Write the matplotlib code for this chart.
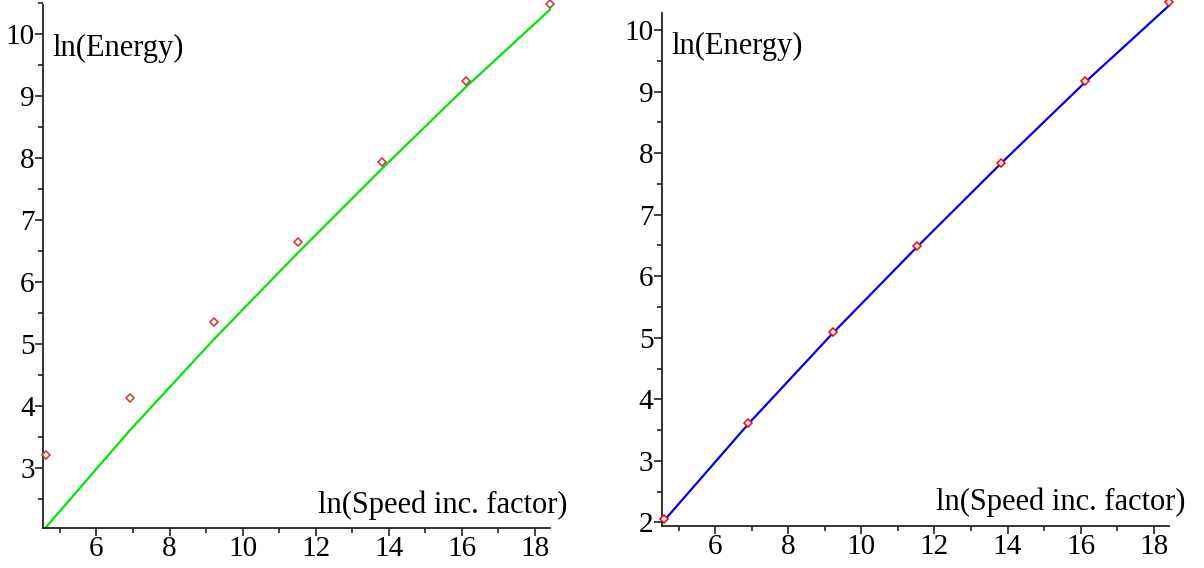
import matplotlib
matplotlib.use("Agg")
import matplotlib.pyplot as plt
from matplotlib.ticker import MultipleLocator

# data: x = ln(speed increase factor)
x_vals = [4.605, 6.908, 9.210, 11.513, 13.816, 16.118, 18.421]
left_y = [3.20, 4.13, 5.35, 6.64, 7.94, 9.24, 10.49]
right_y = [2.05, 3.62, 5.09, 6.49, 7.84, 9.17, 10.46]
# fitted curve (same in both panels), read at the data x positions
curve_x = [4.605, 6.908, 9.210, 11.513, 13.816, 16.118, 18.421]
curve_y = [2.03, 3.60, 5.07, 6.47, 7.83, 9.15, 10.40]

W, H = 1204, 568
fig = plt.figure(figsize=(W / 100, H / 100), dpi=100)
plt.rcParams['font.family'] = ['Liberation Serif', 'DejaVu Serif']

def make_axes(px_left, px_right, px_bottom, ylim, spine_top, ys,
              line_color, mk_color, yticks):
    ax = fig.add_axes([px_left / W, (H - px_bottom) / H,
                       (px_right - px_left) / W, px_bottom / H])
    ax.set_xlim(4.535, 18.42)
    ax.set_ylim(*ylim)
    for s in ['top', 'right']:
        ax.spines[s].set_visible(False)
    ax.spines['left'].set_bounds(ylim[0], spine_top)
    for s in ['left', 'bottom']:
        ax.spines[s].set_linewidth(1.3)
        ax.spines[s].set_color('#222222')
    ax.set_xticks([6, 8, 10, 12, 14, 16, 18])
    ax.xaxis.set_minor_locator(MultipleLocator(1))
    ax.set_yticks(yticks)
    ax.yaxis.set_minor_locator(MultipleLocator(0.5))
    ax.tick_params(which='major', direction='out', length=6, width=1.2,
                   labelsize=21, color='#222222', pad=0)
    ax.tick_params(which='minor', direction='out', length=3.5, width=1.2,
                   color='#222222')
    ax.plot(curve_x, curve_y, color=line_color, lw=1.6, zorder=2,
            clip_on=False)
    ax.plot(x_vals, ys, linestyle='none', marker='D', markersize=4.5,
            markerfacecolor='white', markeredgecolor=mk_color,
            markeredgewidth=1.1, zorder=3, clip_on=False)
    ax.patch.set_alpha(0)
    return ax

ax1 = make_axes(43, 550, 527.7, (2.03, 10.555), 10.47, left_y,
                '#00e600', '#d03030', [3, 4, 5, 6, 7, 8, 9, 10])
ax2 = make_axes(661.7, 1169, 525.7, (1.945, 10.49), 10.28, right_y,
                '#0000ee', '#ff0000', [2, 3, 4, 5, 6, 7, 8, 9, 10])

ax1.text(0.018, 0.909, 'ln(Energy)', transform=ax1.transAxes, fontsize=22,
         ha='left', va='center')
ax2.text(0.020, 0.911, 'ln(Energy)', transform=ax2.transAxes, fontsize=22,
         ha='left', va='center')
ax1.text(1.035, 0.043, 'ln(Speed inc. factor)', transform=ax1.transAxes,
         fontsize=22, ha='right', va='center')
ax2.text(1.0335, 0.045, 'ln(Speed inc. factor)', transform=ax2.transAxes,
         fontsize=22, ha='right', va='center')

fig.savefig('out.png', dpi=100)
